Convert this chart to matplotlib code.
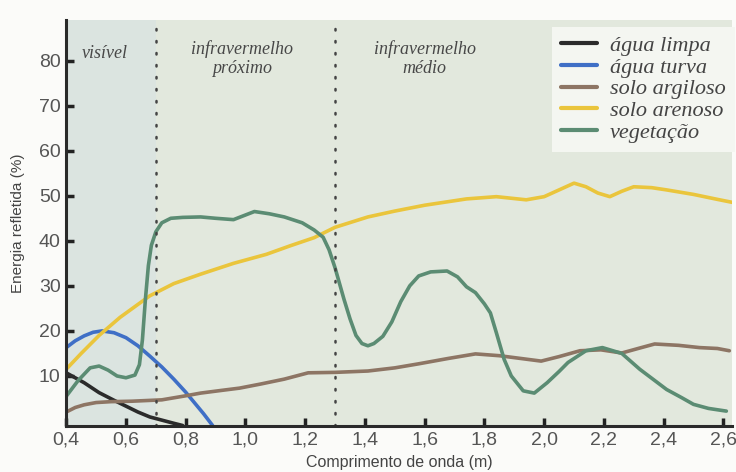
import numpy as np
import matplotlib.pyplot as plt

# comprimento de onda (m) e energia refletida (%) de cada alvo
x_agua_limpa = [0.40, 0.46, 0.51, 0.56, 0.60, 0.64, 0.68, 0.72, 0.76, 0.79]
y_agua_limpa = [10.7, 8.5, 6.3, 4.6, 3.3, 2.0, 0.9, 0.2, -0.5, -1.0]

x_agua_turva = [0.40, 0.43, 0.46, 0.49, 0.52, 0.56, 0.60, 0.64, 0.68, 0.72, 0.76, 0.80, 0.83, 0.86, 0.89]
y_agua_turva = [16.3, 17.8, 18.9, 19.7, 20.0, 19.6, 18.5, 16.7, 14.4, 12.0, 9.3, 6.4, 4.0, 1.6, -1.0]

x_solo_argiloso = [0.40, 0.43, 0.46, 0.50, 0.55, 0.62, 0.72, 0.80, 0.85, 0.92, 0.98, 1.05, 1.13, 1.21,
                   1.30, 1.41, 1.50, 1.58, 1.68, 1.77, 1.85, 1.92, 1.99, 2.05, 2.12, 2.19, 2.26,
                   2.32, 2.37, 2.45, 2.52, 2.58, 2.62]
y_solo_argiloso = [2.0, 3.0, 3.6, 4.1, 4.3, 4.4, 4.7, 5.6, 6.2, 6.8, 7.3, 8.2, 9.3, 10.7,
                   10.8, 11.1, 11.8, 12.7, 13.9, 14.9, 14.5, 13.9, 13.3, 14.3, 15.6, 15.8, 15.1,
                   16.2, 17.1, 16.8, 16.3, 16.1, 15.6]

x_solo_arenoso = [0.40, 0.45, 0.51, 0.58, 0.68, 0.76, 0.85, 0.96, 1.07, 1.15, 1.23, 1.30, 1.41,
                  1.50, 1.60, 1.74, 1.84, 1.94, 2.00, 2.05, 2.10, 2.14, 2.18, 2.22, 2.26, 2.30,
                  2.36, 2.41, 2.50, 2.58, 2.64]
y_solo_arenoso = [11.5, 15.0, 19.0, 23.0, 27.8, 30.5, 32.6, 35.0, 37.0, 38.9, 40.7, 43.0, 45.3,
                  46.6, 47.9, 49.3, 49.8, 49.1, 49.8, 51.3, 52.8, 52.0, 50.6, 49.8, 51.0, 52.0,
                  51.8, 51.3, 50.3, 49.2, 48.4]

x_vegetacao = [0.40, 0.44, 0.48, 0.51, 0.54, 0.57, 0.60, 0.63, 0.645, 0.655, 0.665, 0.675,
               0.685, 0.70, 0.72, 0.75, 0.79, 0.85, 0.90, 0.96, 1.03, 1.08, 1.13, 1.19, 1.23,
               1.26, 1.28, 1.30, 1.33, 1.35, 1.37, 1.39, 1.41, 1.43, 1.46, 1.49, 1.52, 1.55,
               1.58, 1.62, 1.675, 1.71, 1.74, 1.77, 1.80, 1.82, 1.84, 1.866, 1.89, 1.93, 1.967,
               2.01, 2.05, 2.08, 2.14, 2.195, 2.26, 2.32, 2.37, 2.41, 2.46, 2.50, 2.55, 2.61]
y_vegetacao = [5.5, 9.0, 11.8, 12.2, 11.3, 10.0, 9.6, 10.2, 12.5, 18.0, 27.0, 34.5,
               39.0, 42.0, 44.0, 45.0, 45.2, 45.3, 45.0, 44.7, 46.5, 46.0, 45.3, 44.0, 42.4,
               40.8, 38.0, 34.0, 27.0, 22.7, 19.0, 17.2, 16.7, 17.2, 18.8, 22.0, 26.5, 30.0,
               32.2, 33.1, 33.3, 32.0, 29.8, 28.5, 26.0, 24.0, 19.6, 13.7, 10.0, 6.7, 6.2,
               8.5, 11.0, 13.0, 15.6, 16.3, 15.0, 11.5, 9.0, 7.0, 5.2, 3.7, 2.8, 2.2]

nomes = ['água limpa', 'água turva', 'solo argiloso', 'solo arenoso', 'vegetação']
cores = ['#2b2b2b', '#3f6fc6', '#8d7564', '#eac53c', '#5b8c73']

xticks = [0.4, 0.6, 0.8, 1.0, 1.2, 1.4, 1.6, 1.8, 2.0, 2.2, 2.4, 2.6]
yticks = [10, 20, 30, 40, 50, 60, 70, 80]

plt.rcParams['font.family'] = ['Liberation Sans', 'DejaVu Sans']

fig = plt.figure(figsize=(7.36, 4.72), dpi=100)
fig.patch.set_facecolor('#fbfbf9')
ax = fig.add_axes([0.09, 0.0975, 0.905, 0.86])
ax.set_facecolor('#e2e8dd')

# faixa do visível um pouco mais azulada
ax.axvspan(0.4, 0.7, color='#dbe4e0', zorder=0, lw=0)

series = [(x_agua_limpa, y_agua_limpa), (x_agua_turva, y_agua_turva),
          (x_solo_argiloso, y_solo_argiloso), (x_solo_arenoso, y_solo_arenoso),
          (x_vegetacao, y_vegetacao)]
for (xs, ys), nome, cor in zip(series, nomes, cores):
    ax.plot(xs, ys, color=cor, lw=2.6, label=nome, solid_capstyle='round',
            solid_joinstyle='round', clip_on=True)

# limites entre as regiões do espectro
for xv in [0.7, 1.3]:
    ax.axvline(xv, color='#444444', lw=1.8, ls=(0, (0.6, 4.2)), dash_capstyle='round')

serif = dict(family='Liberation Serif', style='italic', color='#474747', fontsize=13)
ax.text(0.53, 81.5, 'visível', ha='center', va='center', **serif)
ax.text(0.99, 80.5, 'infravermelho\npróximo', ha='center', va='center', linespacing=1.15, **serif)
ax.text(1.6, 80.5, 'infravermelho\nmédio', ha='center', va='center', linespacing=1.15, **serif)

ax.set_xlim(0.4, 2.63)
ax.set_ylim(-1.1, 89)
ax.set_xticks(xticks)
ax.set_xticklabels([f'{v:.1f}'.replace('.', ',') for v in xticks])
ax.set_yticks(yticks)
ax.tick_params(direction='in', length=6, width=2.5, color='#222222',
               labelsize=14, labelcolor='#555555', pad=4)

for s in ['top', 'right']:
    ax.spines[s].set_visible(False)
for s in ['left', 'bottom']:
    ax.spines[s].set_linewidth(2.2)
    ax.spines[s].set_color('#2a2a2a')

ax.set_xlabel('Comprimento de onda (m)', fontsize=11.5, color='#444444', labelpad=5)
ax.set_ylabel('Energia refletida (%)', fontsize=11, color='#444444', labelpad=10)

leg = ax.legend(loc='upper right', bbox_to_anchor=(1.01, 0.995), borderaxespad=0.2,
                prop=dict(family='Liberation Serif', style='italic', size=16),
                frameon=True, fancybox=False, handlelength=1.6, handletextpad=0.6,
                labelspacing=0.05, borderpad=0.4, labelcolor='#444444')
leg.get_frame().set_facecolor('#f4f6f1')
leg.get_frame().set_edgecolor('none')
leg.get_frame().set_alpha(1)
for h in leg.get_lines():
    h.set_linewidth(3)

fig.savefig('out.png', dpi=100, facecolor=fig.get_facecolor())
